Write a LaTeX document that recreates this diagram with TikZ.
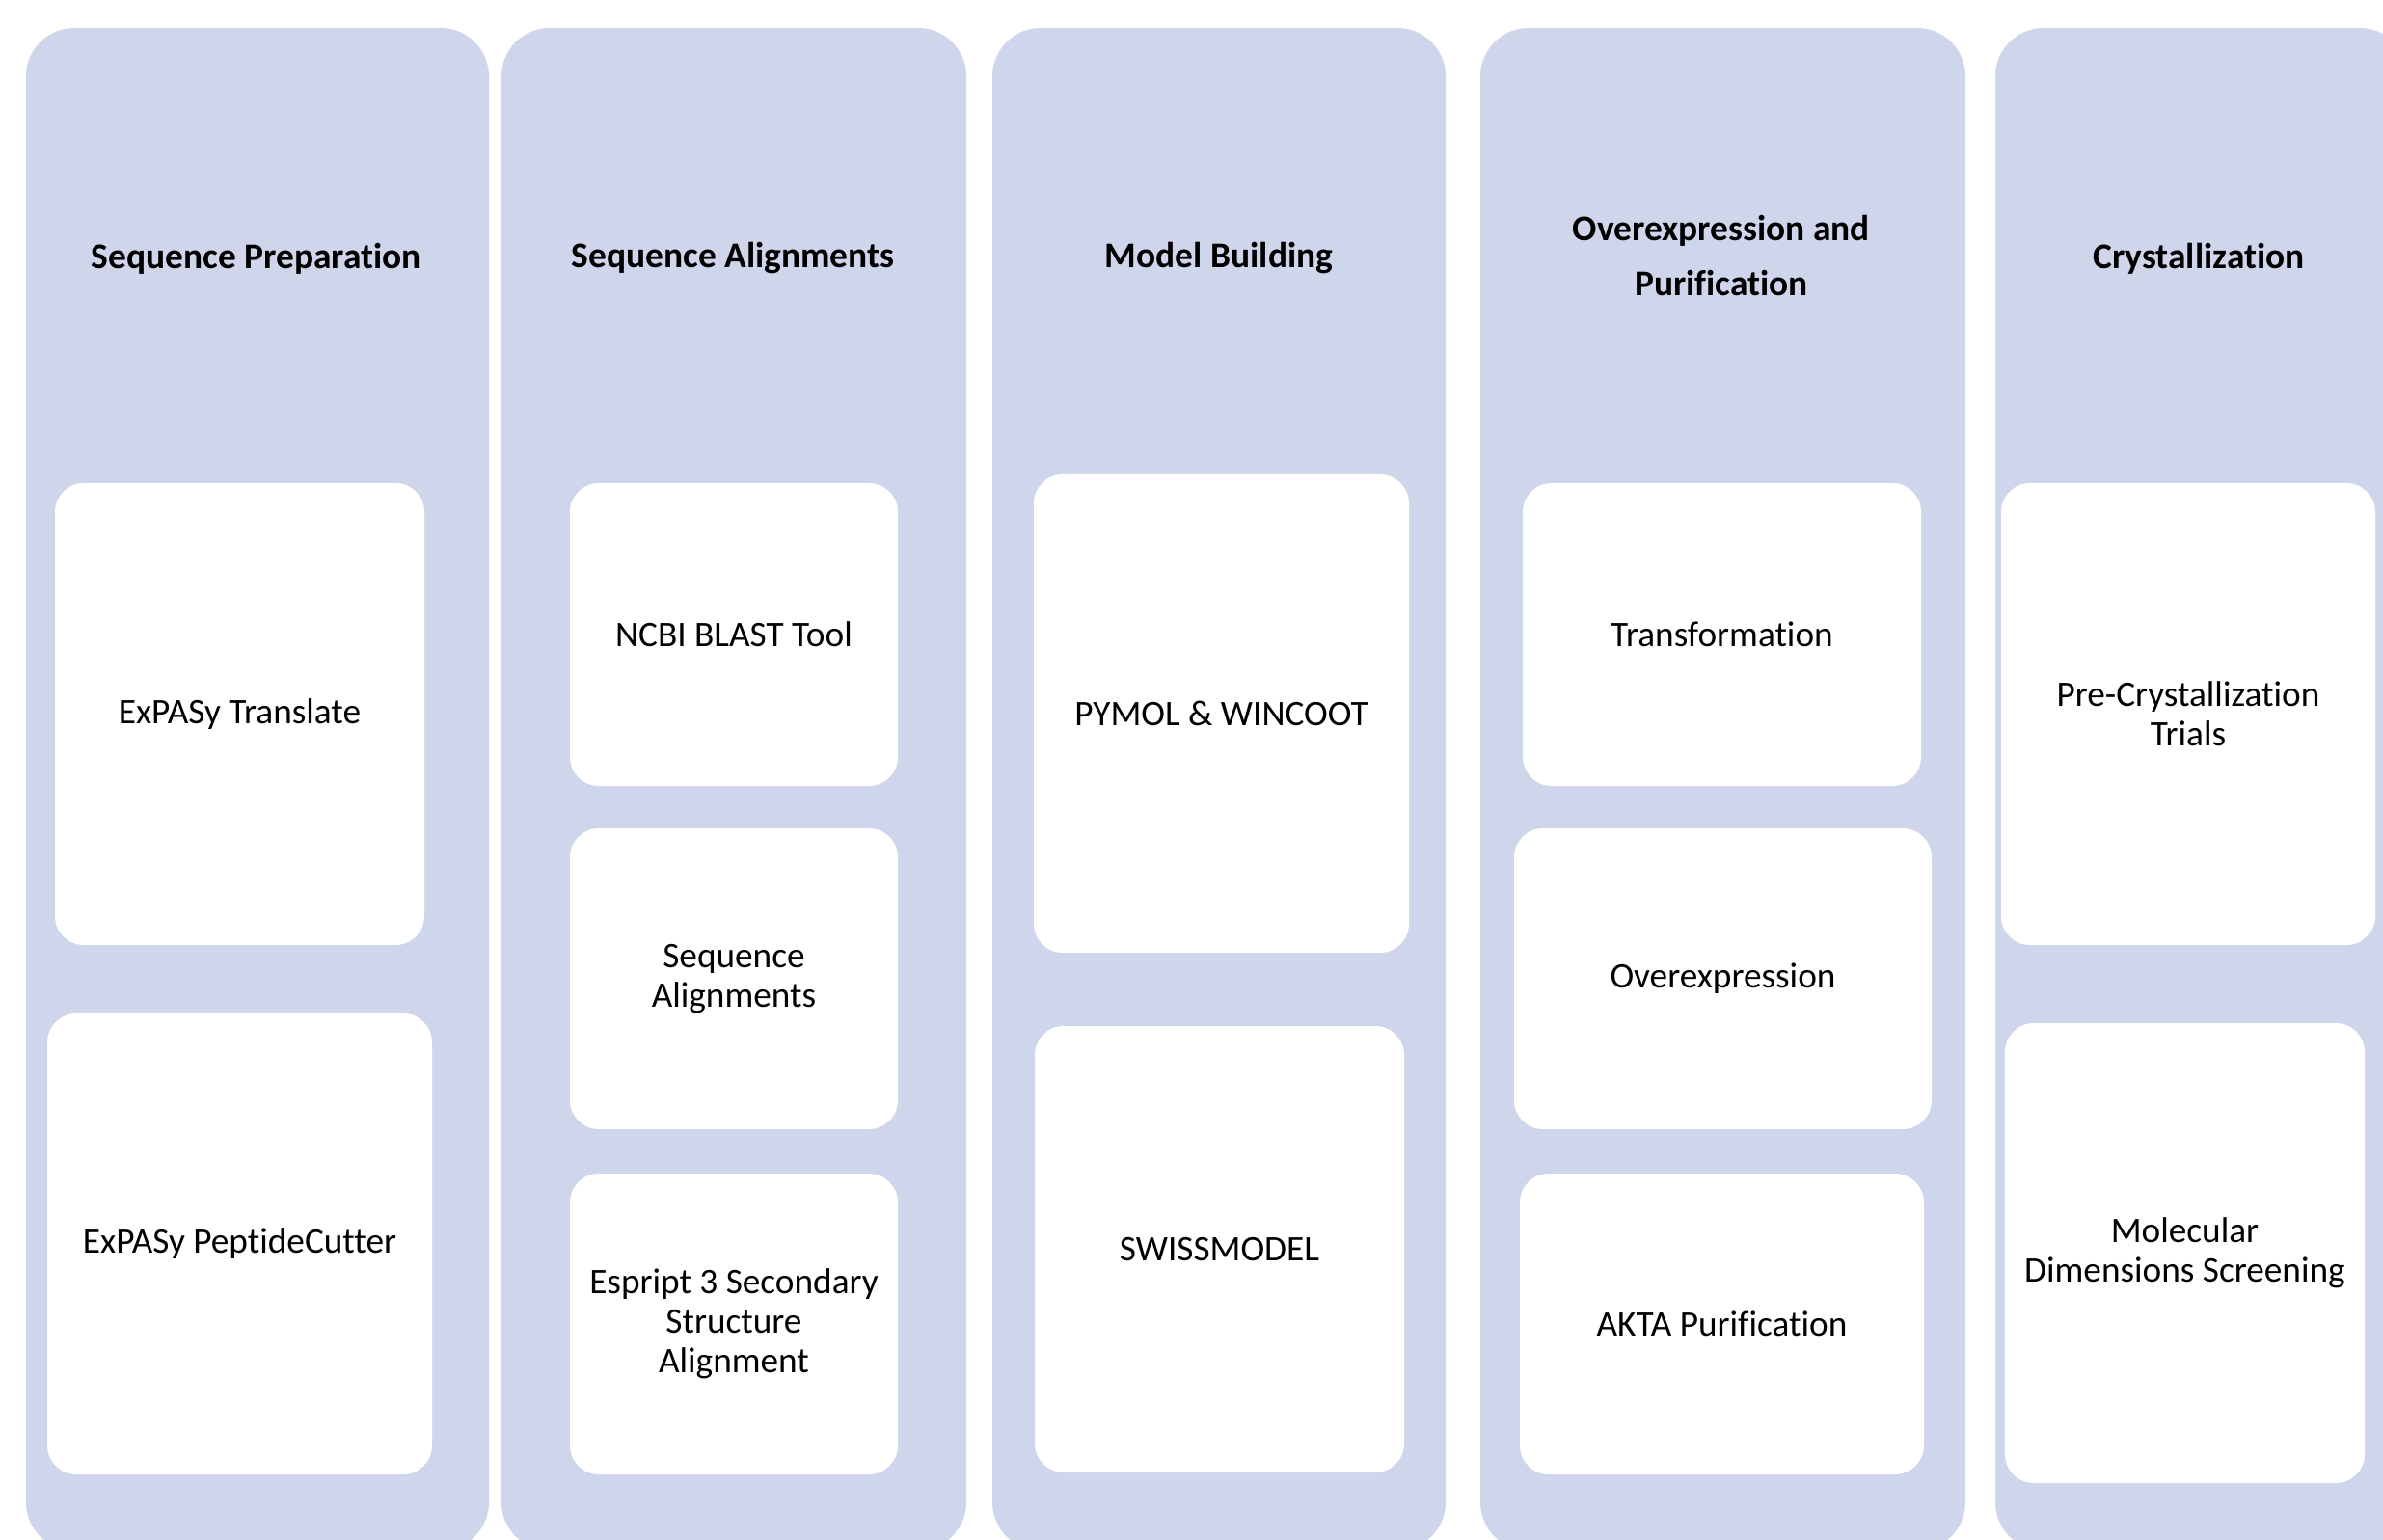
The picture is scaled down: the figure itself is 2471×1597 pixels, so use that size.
\documentclass[tikz,border=0pt]{standalone}
\usepackage{fontspec}
\setmainfont{Carlito}[Ligatures=NoCommon]
\definecolor{lav}{HTML}{CFD5EA}
\tikzset{
  colbox/.style={fill=lav, rounded corners=0.5cm, inner sep=0pt},
  itembox/.style={fill=white, rounded corners=0.3cm, inner sep=0pt, align=center,
    font=\fontsize{10.6}{11.6}\selectfont},
  coltitle/.style={align=center, inner sep=0pt, font=\fontsize{10.65}{16.2}\selectfont\bfseries},
}
\newcommand\rbox[7]{\node[#1, minimum width={(#5-#3)*0.01cm}, minimum height={(#6-#4)*0.01cm}] (#2) at ({(#3+#5)/2},{(#4+#6)/2}) {#7};}
\begin{document}
\begin{tikzpicture}[x=0.01cm, y=-0.01cm]
\useasboundingbox (0,0) rectangle (2471,1597);
\clip (0,0) rectangle (2471,1597);
% columns
\rbox{colbox}{c1}{27}{29}{507}{1608}{}
\rbox{colbox}{c2}{520}{29}{1002}{1608}{}
\rbox{colbox}{c3}{1029}{29}{1499}{1608}{}
\rbox{colbox}{c4}{1535}{29}{2038}{1608}{}
\rbox{colbox}{c5}{2069}{29}{2497}{1608}{}
% titles
\node[coltitle] (t1) at (266,268) {Sequence Preparation};
\node[coltitle] (t2) at (760,268) {Sequence Alignments};
\node[coltitle] (t3) at (1264,268) {Model Building};
\node[coltitle] (t4) at (1785,265) {Overexpression and\\Purification};
\node[coltitle] (t5) at (2280,268) {Crystallization};
% items
\rbox{itembox}{b11}{57}{501}{440}{980}{ExPASy Translate}
\rbox{itembox}{b12}{49}{1051}{448}{1529}{ExPASy PeptideCutter}
\rbox{itembox}{b21}{591}{501}{931}{815}{NCBI BLAST Tool}
\rbox{itembox}{b22}{591}{859}{931}{1171}{Sequence\\Alignments}
\rbox{itembox}{b23}{591}{1217}{931}{1529}{Espript 3 Secondary\\Structure\\Alignment}
\rbox{itembox}{b31}{1072}{492}{1461}{988}{PYMOL \& WINCOOT}
\rbox{itembox}{b32}{1073}{1064}{1456}{1527}{SWISSMODEL}
\rbox{itembox}{b41}{1579}{501}{1992}{815}{Transformation}
\rbox{itembox}{b42}{1570}{859}{2003}{1171}{Overexpression}
\rbox{itembox}{b43}{1576}{1217}{1995}{1529}{AKTA Purification}
\rbox{itembox}{b51}{2075}{501}{2463}{980}{Pre-Crystallization\\Trials}
\rbox{itembox}{b52}{2079}{1061}{2452}{1538}{Molecular\\Dimensions Screening}
\end{tikzpicture}
\end{document}
